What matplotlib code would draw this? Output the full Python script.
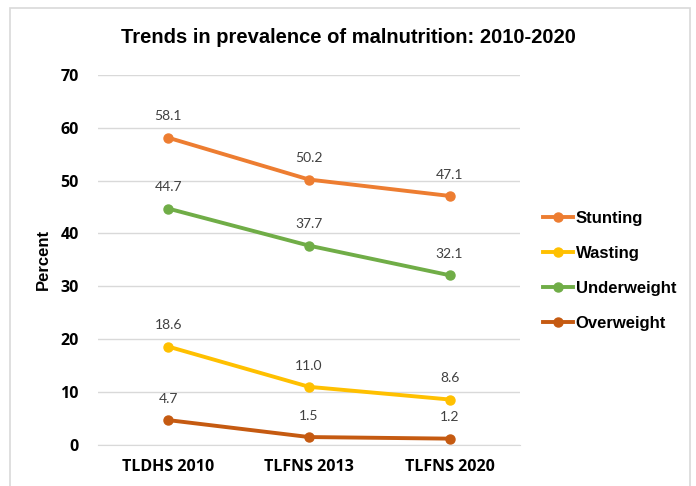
import matplotlib.pyplot as plt
from matplotlib.patches import Rectangle

# data
surveys = ["TLDHS 2010", "TLFNS 2013", "TLFNS 2020"]
stunting = [58.1, 50.2, 47.1]
wasting = [18.6, 11.0, 8.6]
underweight = [44.7, 37.7, 32.1]
overweight = [4.7, 1.5, 1.2]

series = [
    ("Stunting", stunting, "#ED7D31"),
    ("Wasting", wasting, "#FFC000"),
    ("Underweight", underweight, "#70AD47"),
    ("Overweight", overweight, "#C55A11"),
]

fig = plt.figure(figsize=(6.96, 4.86), dpi=100)
ax = fig.add_axes([0.141, 0.0844, 0.606, 0.7616])

# light border around the chart area
fig.patches.append(Rectangle((10 / 696, -0.01), 680 / 696, 1 - 8 / 486 + 0.01,
                             transform=fig.transFigure, fill=False,
                             edgecolor="#D9D9D9", linewidth=1.2))

x = list(range(len(surveys)))
for name, vals, col in series:
    ax.plot(x, vals, color=col, linewidth=2.8, marker="o", markersize=6.5,
            label=name)
    for xi, v in zip(x, vals):
        ax.annotate(f"{v:.1f}", (xi, v), xytext=(0, 11), textcoords="offset points",
                    ha="center", va="bottom", fontsize=10, color="#404040",
                    family="Lato")

ax.set_xlim(-0.5, 2.5)
ax.set_ylim(0, 70)
ax.set_yticks(range(0, 71, 10))
ax.set_xticks(x)
ax.set_xticklabels(surveys)
ax.grid(axis="y", color="#D9D9D9", linewidth=1)
ax.set_axisbelow(True)
for s in ["top", "right", "left"]:
    ax.spines[s].set_visible(False)
ax.spines["bottom"].set_color("#D9D9D9")
ax.tick_params(length=0, pad=10)
for lab in ax.get_xticklabels() + ax.get_yticklabels():
    lab.set_fontfamily("Open Sans")
    lab.set_fontweight("bold")
    lab.set_fontsize(11.5)
ax.tick_params(axis="y", pad=14)

ax.set_ylabel("Percent", fontsize=12, fontweight="bold", family="Liberation Sans",
              labelpad=7)
fig.text(0.5, 0.922, "Trends in prevalence of malnutrition: 2010-2020",
         ha="center", va="center", fontsize=14.5, fontweight="bold",
         family="Liberation Sans")

leg = ax.legend(loc="center left", bbox_to_anchor=(1.02, 0.47), frameon=False,
                prop={"family": "Liberation Sans", "weight": "bold", "size": 12},
                handlelength=1.8, handletextpad=0.15, labelspacing=1.2)

fig.savefig("out.png", dpi=100)
